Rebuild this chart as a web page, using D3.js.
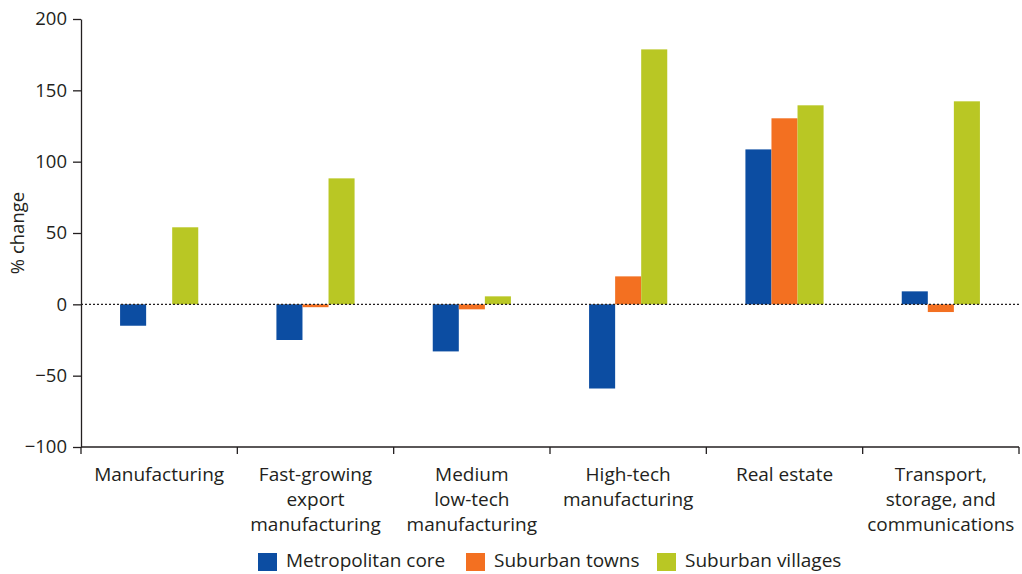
<!DOCTYPE html>
<html><head><meta charset="utf-8">
<script src="https://cdn.jsdelivr.net/npm/d3@7"></script>
<style>
body{margin:0;background:#fff;}
svg text{font-family:"Open Sans",sans-serif;fill:#231f20;}
</style></head>
<body><svg id="c" width="1022" height="574"></svg>
<script>
const categories = [
  ["Manufacturing"],
  ["Fast-growing","export","manufacturing"],
  ["Medium","low-tech","manufacturing"],
  ["High-tech","manufacturing"],
  ["Real estate"],
  ["Transport,","storage, and","communications"]
];
const series = ["Metropolitan core","Suburban towns","Suburban villages"];
const metroCore = [-15, -25, -33, -59, 108.6, 9.1];
const suburbanTowns = [0, -2, -3.5, 19.6, 130.4, -5.4];
const suburbanVillages = [54, 88.3, 5.6, 178.7, 139.5, 142.3];
const yTicks = [-100, -50, 0, 50, 100, 150, 200];
const colors = ["#0c4da2", "#f37021", "#b9c724"];

const values = [metroCore, suburbanTowns, suburbanVillages];
const svg = d3.select("#c");
const mLeft = 81, mRight = 1019, mTop = 19, mBottom = 447;
const catKeys = categories.map((d,i)=>i);

const x0 = d3.scaleBand().domain(catKeys).range([mLeft, mRight]).padding(0);
const x1 = d3.scaleBand().domain(series).range([0, x0.bandwidth()]).paddingInner(0).paddingOuter(1.5);
const y = d3.scaleLinear().domain([-100, 200]).range([mBottom, mTop]);

// bars
const g = svg.append("g");
categories.forEach((c, i) => {
  series.forEach((s, j) => {
    const v = values[j][i];
    if (v === 0) return;
    g.append("rect")
      .attr("x", x0(i) + x1(s))
      .attr("width", x1.bandwidth())
      .attr("y", y(Math.max(0, v)))
      .attr("height", Math.abs(y(v) - y(0)))
      .attr("fill", colors[j]);
  });
});

// zero line
svg.append("line")
  .attr("x1", mLeft).attr("x2", mRight)
  .attr("y1", y(0)).attr("y2", y(0))
  .attr("stroke", "#231f20").attr("stroke-width", 1.3)
  .attr("stroke-dasharray", "2,2");

// y axis
const yAxis = d3.axisLeft(y).tickValues(yTicks).tickSize(8).tickSizeOuter(0).tickPadding(6);
const ya = svg.append("g").attr("transform", `translate(${mLeft},0)`).call(yAxis);
ya.selectAll("path").attr("stroke", "#231f20").attr("stroke-width", 1.3);
ya.selectAll("line").attr("stroke", "#231f20").attr("stroke-width", 1.3);
ya.selectAll("text").attr("font-size", 18.5).attr("font-family", "Open Sans").attr("fill", "#231f20");

// x axis
svg.append("line").attr("x1", mLeft).attr("x2", mRight).attr("y1", mBottom).attr("y2", mBottom)
  .attr("stroke", "#231f20").attr("stroke-width", 1.3);
const bounds = catKeys.map(k => x0(k)).concat([mRight]);
svg.append("g").selectAll("line").data(bounds).join("line")
  .attr("x1", d => d).attr("x2", d => d)
  .attr("y1", mBottom).attr("y2", mBottom + 7)
  .attr("stroke", "#231f20").attr("stroke-width", 1.3);

// category labels
categories.forEach((lines, i) => {
  const cx = x0(i) + x0.bandwidth()/2;
  const t = svg.append("text")
    .attr("x", cx)
    .attr("y", 481)
    .attr("text-anchor", "middle")
    .attr("font-size", 19);
  lines.forEach((ln, k) => {
    t.append("tspan").attr("x", cx).attr("dy", k === 0 ? 0 : 25).text(ln);
  });
});

// y label
svg.append("text")
  .attr("transform", `translate(24,${(mTop+mBottom)/2}) rotate(-90)`)
  .attr("text-anchor", "middle")
  .attr("font-size", 18.5)
  .text("% change");

// legend
const legendX = [258, 466, 657];
series.forEach((s, j) => {
  svg.append("rect").attr("x", legendX[j]).attr("y", 553).attr("width", 19).attr("height", 18).attr("fill", colors[j]);
  svg.append("text").attr("x", legendX[j] + 28).attr("y", 567).attr("font-size", 19).text(s);
});
</script></body></html>
